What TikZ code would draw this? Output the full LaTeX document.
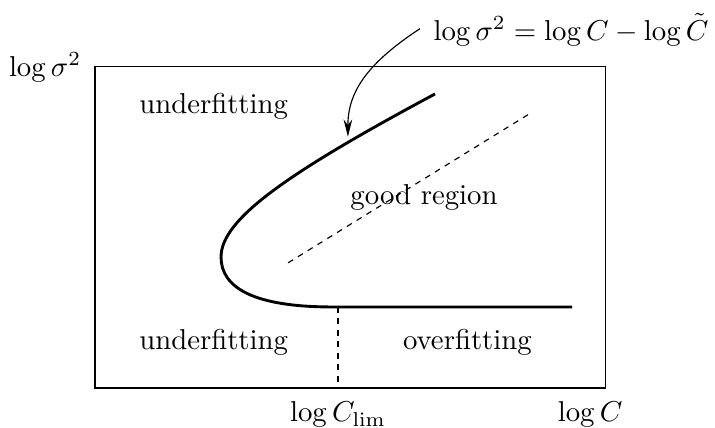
\documentclass[tikz,border=0pt]{standalone}
\usepackage{amsmath,amssymb}
\usepackage{tikz}
\usetikzlibrary{positioning, arrows.meta, calc}

\begin{document}
\begin{tikzpicture}[font=\normalsize,
        every node/.style={align=center, inner sep=0pt},
        frontier/.style={line width=1pt},
        guide/.style={thin, dash pattern=on 2pt off 2pt},
        note/.style={-{Stealth[length=6pt, width=3pt]}, thin}]

        \useasboundingbox (-1.161,-0.477) rectangle (7.576,4.741);

        % frame of the (log C, log sigma^2) plane
        \draw[thin] (0,0) rectangle (6.24,3.93);
        \coordinate (box-nw) at (0,3.93);

        % axis labels
        \node[anchor=base east] (lbl-sigma) at (-0.16,3.81) {$\log\sigma^2$};
        \node[anchor=base] (lbl-clim) at (2.97,-0.415) {$\log C_{\mathrm{lim}}$};
        \node[anchor=base] (lbl-c)    at (6.05,-0.415) {$\log C$};

        % boundary of the good region
        \coordinate (top)  at (4.155,3.593);
        \coordinate (nose) at (1.54,1.60);
        \coordinate (clim) at (2.97,0.99);
        \coordinate (tail) at (5.83,0.99);
        \draw[frontier] (top) .. controls (2.3,2.6) and (1.54,2.05) .. (nose)
                              .. controls (1.54,1.22) and (1.95,0.99) .. (2.9,0.99) -- (tail);

        % dashed lines
        \coordinate (diag-a) at (2.36,1.53);
        \coordinate (diag-b) at (5.34,3.37);
        \coordinate (clim-foot) at (2.97,0.07);
        \draw[guide] (diag-a) -- (diag-b);
        \draw[guide] (clim) -- (clim-foot);

        % region names
        \node[anchor=base] (under-top) at (1.45,3.35) {underfitting};
        \node[anchor=base] (good)      at (4.02,2.24) {good region};
        \node[anchor=base] (under-bot) at (1.45,0.465) {underfitting};
        \node[anchor=base] (over)      at (4.55,0.465) {overfitting};

        % formula with its arrow
        \node[anchor=base west] (formula) at (4.13,4.25)
            {$\log\sigma^2 = \log C - \log\tilde{C}$};
        \coordinate (note-start) at (3.97,4.39);
        \coordinate (note-end)   at (3.09,3.07);
        \draw[note] (note-start) .. controls (3.3,3.95) and (3.09,3.6) .. (note-end);
    \end{tikzpicture}
\end{document}
